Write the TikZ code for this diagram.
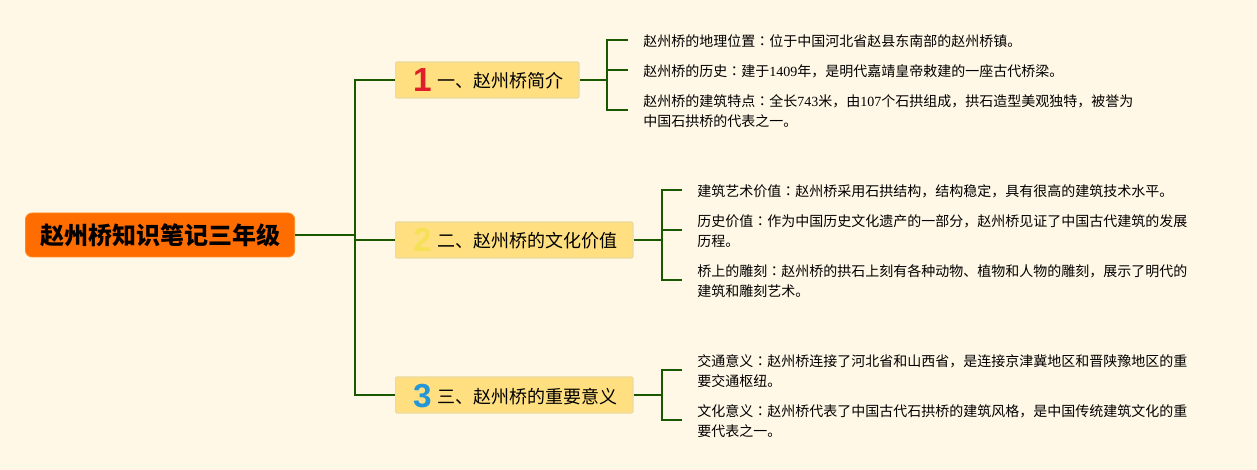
\documentclass[tikz,border=0pt]{standalone}
\usepackage{fontspec}
\usepackage{tikz}
\setmainfont{Liberation Serif}
\newfontfamily\cjk{Noto Sans CJK SC}
\newfontfamily\cjktc{Noto Sans CJK TC}
\newfontfamily\numfont{Liberation Sans}
\definecolor{paper}{RGB}{255, 248, 230}
\definecolor{branchgreen}{RGB}{26, 88, 0}
\definecolor{rootorange}{RGB}{255, 109, 0}
\definecolor{rootedge}{RGB}{255, 140, 30}
\definecolor{secfill}{RGB}{255, 223, 128}
\definecolor{secedge}{RGB}{236, 218, 160}
\definecolor{numred}{RGB}{222, 30, 40}
\definecolor{numyellow}{RGB}{245, 225, 85}
\definecolor{numblue}{RGB}{35, 150, 215}
\newcommand{\secnum}[2]{\makebox[20pt][c]{\kern-3pt\smash{\raisebox{-3pt}{\numfont\bfseries\fontsize{25}{25}\selectfont\color{#1}#2}}}}
\newcommand{\lat}[1]{{\rmfamily #1}}
\newcommand{\cln}{{\cjktc ：}}
\tikzset{
    rootbox/.style={draw=rootedge, fill=rootorange, rounded corners=5pt, line width=0.6pt, anchor=west,
        minimum width=202pt, minimum height=33pt, inner sep=0pt, font=\cjk\bfseries\fontsize{18}{18}\selectfont},
    secbox/.style={draw=secedge, fill=secfill, line width=0.9pt, anchor=west, rounded corners=0.8pt,
        minimum height=27pt, inner xsep=11.5pt, inner ysep=0pt, text height=13pt, text depth=1pt,
        font=\cjk\fontsize{13.5}{13.5}\selectfont},
    leaf/.style={anchor=west, align=left, inner xsep=11.25pt, inner ysep=0pt,
        font=\cjk\fontsize{10.5}{15}\selectfont},
    branch/.style={draw=branchgreen, line width=1.6pt}
}
\begin{document}
\begin{tikzpicture}[x=0.75pt, y=-0.75pt]
    \useasboundingbox[fill=paper] (0,0) rectangle (1257,470);
    % root and sections
    \node[rootbox] (root) at (25,235) {赵州桥知识笔记三年级};
    \node[secbox] (secone) at (395,80) {\secnum{numred}{1}一、赵州桥简介};
    \node[secbox] (sectwo) at (395,240) {\secnum{numyellow}{2}二、赵州桥的文化价值};
    \node[secbox] (secthree) at (395,395) {\secnum{numblue}{3}三、赵州桥的重要意义};
    % leaves of the first section
    \node[leaf] (oneA) at (628,41) {赵州桥的地理位置\cln 位于中国河北省赵县东南部的赵州桥镇。};
    \node[leaf] (oneB) at (628,71) {赵州桥的历史\cln 建于\lat{1409}年，是明代嘉靖皇帝敕建的一座古代桥梁。};
    \node[leaf] (oneC) at (628,111) {赵州桥的建筑特点\cln 全长\lat{743}米，由\lat{107}个石拱组成，拱石造型美观独特，被誉为\\中国石拱桥的代表之一。};
    % leaves of the second section
    \node[leaf] (twoA) at (682,191) {建筑艺术价值\cln 赵州桥采用石拱结构，结构稳定，具有很高的建筑技术水平。};
    \node[leaf] (twoB) at (682,231) {历史价值\cln 作为中国历史文化遗产的一部分，赵州桥见证了中国古代建筑的发展\\历程。};
    \node[leaf] (twoC) at (682,281) {桥上的雕刻\cln 赵州桥的拱石上刻有各种动物、植物和人物的雕刻，展示了明代的\\建筑和雕刻艺术。};
    % leaves of the third section
    \node[leaf] (threeA) at (682,371) {交通意义\cln 赵州桥连接了河北省和山西省，是连接京津冀地区和晋陕豫地区的重\\要交通枢纽。};
    \node[leaf] (threeB) at (682,421) {文化意义\cln 赵州桥代表了中国古代石拱桥的建筑风格，是中国传统建筑文化的重\\要代表之一。};
    % connectors
    \coordinate (trunk) at (355,235);
    \draw[branch] (root.east) -- (trunk);
    \foreach \sec in {secone, sectwo, secthree}
        \draw[branch] (trunk) |- (\sec.west);
    \coordinate (onejoin) at (607,80);
    \draw[branch] (secone.east) -- (onejoin);
    \foreach \lf in {oneA, oneB, oneC}
        \draw[branch] (onejoin) |- ([yshift=0.75pt]\lf.west);
    \coordinate (twojoin) at (662,240);
    \draw[branch] (sectwo.east) -- (twojoin);
    \foreach \lf in {twoA, twoB, twoC}
        \draw[branch] (twojoin) |- ([yshift=0.75pt]\lf.west);
    \coordinate (threejoin) at (662,395);
    \draw[branch] (secthree.east) -- (threejoin);
    \foreach \lf in {threeA, threeB}
        \draw[branch] (threejoin) |- ([yshift=0.75pt]\lf.west);
\end{tikzpicture}
\end{document}
